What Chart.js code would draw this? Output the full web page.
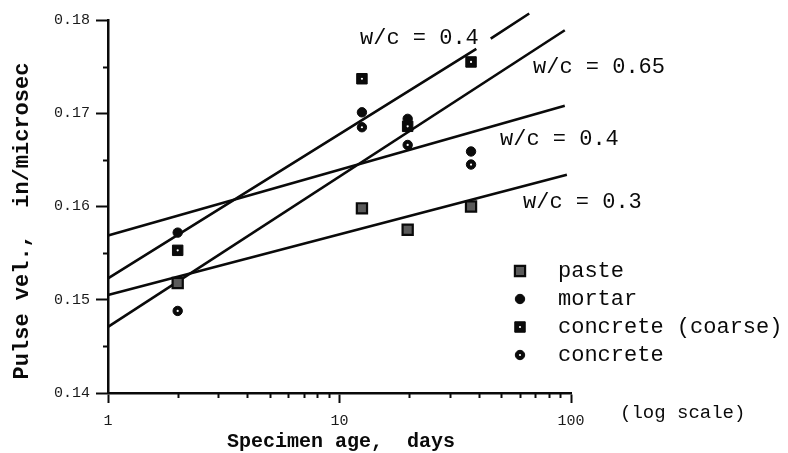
<!DOCTYPE html>
<html><head><meta charset="utf-8">
<style>html,body{margin:0;padding:0;background:#fff}canvas{display:block}</style>
<script src="https://cdn.jsdelivr.net/npm/chart.js@4/dist/chart.umd.min.js"></script>
</head><body>
<canvas id="c" width="788" height="453"></canvas>
<script>
// ---- data ----
const ages = [2, 12.5, 19.7, 37];
const paste = [0.1518, 0.1598, 0.1575, 0.1600];
const mortar = [0.1572, 0.1701, 0.1694, 0.1659];
const concreteCoarse = [0.1553, 0.1737, 0.1686, 0.1755];
const concrete = [0.1488, 0.1685, 0.1666, 0.1645];

// regression lines (age, value); null = gap left for the label
const wc04aAges = [1, 39, 42, 45, 66];
const wc04aVals = [0.1523, 0.1769, null, 0.1780, 0.1807];
const wc065Ages = [1, 94];
const wc065Vals = [0.1471, 0.1789];
const wc04bAges = [1, 94];
const wc04bVals = [0.1569, 0.1708];
const wc03Ages = [1, 96];
const wc03Vals = [0.1505, 0.1634];

const yTicks = [0.14, 0.15, 0.16, 0.17, 0.18];
const yMinor = [0.145, 0.155, 0.165, 0.175];
const xTicks = [1, 10, 100];
const xMinor = [2,3,4,5,6,7,8,9,20,30,40,50,60,70,80,90];

const lineLabels = ['w/c = 0.4', 'w/c = 0.65', 'w/c = 0.4', 'w/c = 0.3'];
const legendLabels = ['paste', 'mortar', 'concrete (coarse)', 'concrete'];
const yTitle = 'Pulse vel.,  in/microsec';
const xTitle = 'Specimen age,  days';
const xNote = '(log scale)';

const MONO = '"Liberation Mono", "DejaVu Sans Mono", monospace';
const INK = '#0a0a0a';

const pts = (xs, ys) => xs.map((x, i) => ({x: x, y: ys[i]}));
const lineDs = (xs, ys) => ({
  type: 'line', data: pts(xs, ys), borderColor: INK, borderWidth: 2.6,
  pointRadius: 0, fill: false, spanGaps: false, clip: false, order: 5
});
const markDs = (label, ys, s) => ({
  type: 'scatter', label: label, data: pts(ages, ys), pointStyle: s.style,
  pointRadius: s.r, pointBackgroundColor: s.fill, pointBorderColor: INK,
  pointBorderWidth: s.bw, showLine: false, order: 2
});
const dotDs = (ys) => ({
  type: 'scatter', data: pts(ages, ys), pointStyle: 'circle', pointRadius: 1.1,
  pointBackgroundColor: '#fff', pointBorderWidth: 0, showLine: false, order: 1
});

const STYLES = [
  {style: 'rect', fill: '#5a5a5a', r: 7.2, bw: 2.2, dot: false},
  {style: 'circle', fill: INK, r: 4.7, bw: 1, dot: false},
  {style: 'rect', fill: INK, r: 7.4, bw: 1, dot: true},
  {style: 'circle', fill: INK, r: 4.7, bw: 1, dot: true}
];

const annot = {
  id: 'annot',
  afterDraw(chart) {
    const ctx = chart.ctx, xs = chart.scales.x, ys = chart.scales.y;
    const ca = chart.chartArea;
    ctx.save();
    ctx.strokeStyle = INK; ctx.lineWidth = 2;
    // minor ticks
    xMinor.forEach(v => {
      const px = Math.round(xs.getPixelForValue(v)) + 0.5;
      ctx.beginPath(); ctx.moveTo(px, ca.bottom); ctx.lineTo(px, ca.bottom + 5); ctx.stroke();
    });
    yMinor.forEach(v => {
      const py = Math.round(ys.getPixelForValue(v)) + 0.5;
      ctx.beginPath(); ctx.moveTo(ca.left, py); ctx.lineTo(ca.left - 5, py); ctx.stroke();
    });
    ctx.fillStyle = INK;
    ctx.textBaseline = 'middle';
    // line labels
    ctx.font = '22px ' + MONO; ctx.textAlign = 'left';
    const lp = [[360, 38], [533, 67], [500, 139], [523, 202]];
    lineLabels.forEach((t, i) => ctx.fillText(t, lp[i][0], lp[i][1]));
    // legend
    const ly = [271, 299, 327, 355];
    legendLabels.forEach((t, i) => {
      const s = STYLES[i], cx = 520, cy = ly[i];
      ctx.fillStyle = s.fill; ctx.strokeStyle = INK; ctx.lineWidth = s.bw;
      ctx.beginPath();
      if (s.style === 'rect') { const h = s.r * Math.SQRT1_2; ctx.rect(cx - h, cy - h, 2 * h, 2 * h); }
      else ctx.arc(cx, cy, s.r, 0, Math.PI * 2);
      ctx.fill(); ctx.stroke();
      if (s.dot) { ctx.fillStyle = '#fff'; ctx.beginPath(); ctx.arc(cx, cy, 1.1, 0, Math.PI * 2); ctx.fill(); }
      ctx.fillStyle = INK; ctx.font = '22px ' + MONO; ctx.textAlign = 'left';
      ctx.fillText(t, 558, cy);
    });
    // log scale note
    ctx.font = '19px ' + MONO; ctx.fillText(xNote, 620, 413);
    // axis titles
    ctx.font = 'bold 20px ' + MONO; ctx.textAlign = 'center';
    ctx.fillText(xTitle, 341, 442);
    ctx.font = 'bold 22px ' + MONO;
    ctx.translate(22, 221); ctx.rotate(-Math.PI / 2);
    ctx.fillText(yTitle, 0, 0);
    ctx.restore();
  }
};

new Chart(document.getElementById('c'), {
  data: {
    datasets: [
      lineDs(wc04aAges, wc04aVals), lineDs(wc065Ages, wc065Vals),
      lineDs(wc04bAges, wc04bVals), lineDs(wc03Ages, wc03Vals),
      markDs(legendLabels[0], paste, STYLES[0]),
      markDs(legendLabels[1], mortar, STYLES[1]),
      markDs(legendLabels[2], concreteCoarse, STYLES[2]),
      markDs(legendLabels[3], concrete, STYLES[3]),
      dotDs(concreteCoarse), dotDs(concrete)
    ]
  },
  options: {
    responsive: false, animation: false, devicePixelRatio: 1,
    layout: {padding: {top: 20, right: 217, left: 0, bottom: 0}},
    plugins: {legend: {display: false}, tooltip: {enabled: false}},
    scales: {
      x: {
        type: 'logarithmic', min: 1, max: 100,
        afterBuildTicks: s => { s.ticks = xTicks.map(v => ({value: v})); },
        afterFit: s => { s.height = 60; },
        border: {display: true, color: INK, width: 2.5},
        grid: {display: true, drawOnChartArea: false, drawTicks: true, tickLength: 10, tickWidth: 2, tickColor: INK},
        ticks: {color: '#1a1a1a', font: {family: MONO, size: 15}, padding: 9, maxRotation: 0, autoSkip: false,
                callback: v => String(v)}
      },
      y: {
        type: 'linear', min: 0.14, max: 0.18,
        afterBuildTicks: s => { s.ticks = yTicks.map(v => ({value: v})); },
        afterFit: s => { s.width = 108; },
        border: {display: true, color: INK, width: 2.5},
        grid: {display: true, drawOnChartArea: false, drawTicks: true, tickLength: 12, tickWidth: 2, tickColor: INK},
        ticks: {color: '#1a1a1a', font: {family: MONO, size: 15}, padding: 6,
                callback: v => Number(v).toFixed(2)}
      }
    }
  },
  plugins: [annot]
});
</script>
</body></html>
